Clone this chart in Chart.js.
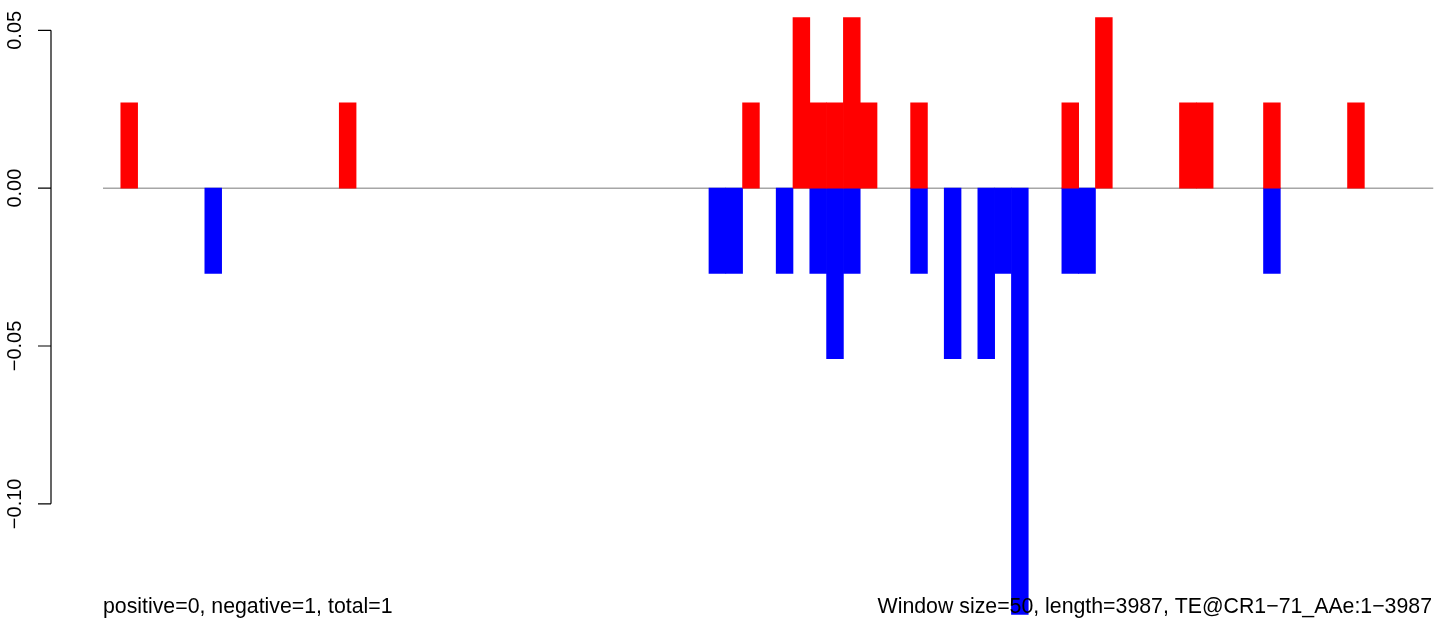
<!DOCTYPE html>
<html>
<head>
<meta charset="utf-8">
<script src="https://cdn.jsdelivr.net/npm/chart.js@4"></script>
<style>
    html, body { margin: 0; padding: 0; background: #ffffff; overflow: hidden; }
    #box { width: 1444px; height: 626px; }
</style>
</head>
<body>
<div id="box"><canvas id="teChart" width="1444" height="626"></canvas></div>
<script>
// window layout of the sequence
const windowSize = 50;
const seqLength = 3987;

// positive windows (start position, value)
const posStarts = [50, 700, 1900, 2050, 2100, 2150, 2200, 2250, 2400, 2850, 2950, 3200, 3250, 3450, 3700];
const posValues = [0.027, 0.027, 0.027, 0.054, 0.027, 0.027, 0.054, 0.027, 0.027, 0.027, 0.054, 0.027, 0.027, 0.027, 0.027];

// negative windows (start position, value)
const negStarts = [300, 1800, 1850, 2000, 2100, 2150, 2200, 2400, 2500, 2600, 2650, 2700, 2850, 2900, 3450];
const negValues = [-0.027, -0.027, -0.027, -0.027, -0.027, -0.054, -0.027, -0.027, -0.054, -0.054, -0.027, -0.135, -0.027, -0.027, -0.027];

// y axis ticks
const yTicks = [0.05, 0.00, -0.05, -0.10];
const yTickLabels = ["0.05", "0.00", "\u22120.05", "\u22120.10"];

const leftNote = "positive=0, negative=1, total=1";
const rightNote = "Window size=50, length=3987, TE@CR1\u221271_AAe:1\u22123987";

const toPoints = (starts, values) => starts.map((s, i) => ({ x: s + windowSize / 2, y: values[i] }));

const fontFamily = '"Liberation Sans", Arial, Helvetica, sans-serif';

// zero line under the bars, R style axis + notes on top
const rStylePlugin = {
    id: 'rStyle',
    beforeDatasetsDraw(chart) {
        const { ctx, scales: { x, y } } = chart;
        const y0 = y.getPixelForValue(0);
        ctx.save();
        ctx.strokeStyle = '#a6a6a6';
        ctx.lineWidth = 1.5;
        ctx.beginPath();
        ctx.moveTo(x.getPixelForValue(0) - 1, y0);
        ctx.lineTo(x.getPixelForValue(3955), y0);
        ctx.stroke();
        ctx.restore();
    },
    afterDraw(chart) {
        const { ctx, scales: { y } } = chart;
        const axisX = 51;
        ctx.save();
        ctx.strokeStyle = '#000000';
        ctx.lineWidth = 1.2;
        ctx.beginPath();
        ctx.moveTo(axisX, y.getPixelForValue(yTicks[0]));
        ctx.lineTo(axisX, y.getPixelForValue(yTicks[yTicks.length - 1]));
        yTicks.forEach(t => {
            const py = y.getPixelForValue(t);
            ctx.moveTo(axisX, py);
            ctx.lineTo(axisX - 13, py);
        });
        ctx.stroke();

        ctx.fillStyle = '#000000';
        ctx.font = '20px ' + fontFamily;
        ctx.textAlign = 'center';
        ctx.textBaseline = 'alphabetic';
        yTicks.forEach((t, i) => {
            const py = y.getPixelForValue(t);
            ctx.save();
            ctx.translate(21, py);
            ctx.rotate(-Math.PI / 2);
            ctx.fillText(yTickLabels[i], 0, 0);
            ctx.restore();
        });

        ctx.font = '21.3px ' + fontFamily;
        ctx.textAlign = 'left';
        ctx.fillText(leftNote, 103, 613);
        ctx.textAlign = 'right';
        ctx.fillText(rightNote, 1432, 613);
        ctx.restore();
    }
};

new Chart(document.getElementById('teChart'), {
    type: 'bar',
    data: {
        datasets: [
            {
                label: 'positive',
                data: toPoints(posStarts, posValues),
                backgroundColor: '#ff0000',
                borderWidth: 0,
                grouped: false,
                barPercentage: 1,
                categoryPercentage: 1
            },
            {
                label: 'negative',
                data: toPoints(negStarts, negValues),
                backgroundColor: '#0000ff',
                borderWidth: 0,
                grouped: false,
                barPercentage: 1,
                categoryPercentage: 1
            }
        ]
    },
    options: {
        responsive: false,
        animation: false,
        layout: { padding: { left: 104, right: 0, top: 0, bottom: 0 } },
        plugins: {
            legend: { display: false },
            tooltip: { enabled: false }
        },
        scales: {
            x: { type: 'linear', display: false, offset: false, min: 0, max: seqLength },
            y: { display: false, min: -0.1387, max: 0.0596 }
        }
    },
    plugins: [rStylePlugin]
});
</script>
</body>
</html>
